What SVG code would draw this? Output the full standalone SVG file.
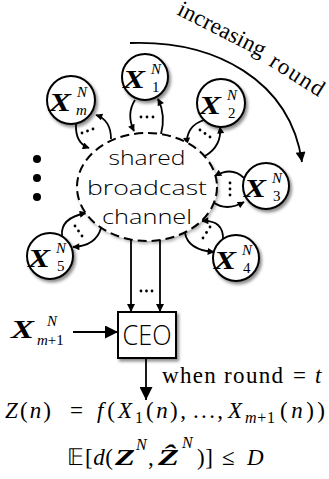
<svg xmlns="http://www.w3.org/2000/svg" width="329" height="479" viewBox="0 0 329 479">
<defs>
<filter id="sh" x="-30%" y="-30%" width="170%" height="170%">
<feDropShadow dx="2" dy="2.5" stdDeviation="1.8" flood-color="#000" flood-opacity="0.45"/>
</filter>
<filter id="sh2" x="-20%" y="-20%" width="140%" height="140%">
<feDropShadow dx="1.5" dy="2" stdDeviation="1.5" flood-color="#000" flood-opacity="0.3"/>
</filter>
<marker id="as" markerUnits="userSpaceOnUse" viewBox="0 0 10 10" refX="9" refY="5" markerWidth="9" markerHeight="7" orient="auto"><path d="M0,0 L10,5 L0,10 z"/></marker>
<marker id="am" markerUnits="userSpaceOnUse" viewBox="0 0 10 10" refX="10" refY="5" markerWidth="13" markerHeight="8" orient="auto"><path d="M0,0 L10,5 L0,10 z"/></marker>
<marker id="al" markerUnits="userSpaceOnUse" viewBox="0 0 10 10" refX="10" refY="5" markerWidth="19" markerHeight="13" orient="auto"><path d="M0,0 L10,5 L0,10 z"/></marker>
<marker id="ac" markerUnits="userSpaceOnUse" viewBox="0 0 10 10" refX="10" refY="5" markerWidth="15" markerHeight="10" orient="auto"><path d="M0,0 L10,5 L0,10 z"/></marker>
</defs>
<style>
.node circle{fill:#fff;stroke:#000;stroke-width:2;filter:url(#sh)}
.bx{font-family:"Liberation Serif",serif;font-weight:bold;font-style:italic;font-size:25px}
.sup{font-family:"Liberation Serif",serif;font-style:italic;font-size:15px}
.sub{font-family:"Liberation Serif",serif;font-size:15px}
.c{fill:none;stroke:#000;stroke-width:1.8}
.cs{fill:none;stroke:#000;stroke-width:1.8;marker-end:url(#as)}
.dt{fill:#000}
.sans{font-family:"Open Sans","DejaVu Sans",sans-serif;font-weight:300;text-anchor:middle}
.m{font-family:"Liberation Serif",serif;font-size:23px}
.s{font-family:"Liberation Serif",serif;font-size:16px}
.i{font-style:italic}
.bi{font-style:italic;font-weight:bold}
</style>

<g id="connectors">
  <path class="cs" d="M76,124 Q75,143 89,148"/>
  <path class="cs" d="M111,139 Q111,120 96,115"/>
  <circle class="dt" cx="82" cy="133" r="1.4"/><circle class="dt" cx="87.5" cy="131" r="1.4"/><circle class="dt" cx="93" cy="129" r="1.4"/>
  <path class="cs" d="M135,100 Q126,114 134,131"/>
  <path class="cs" d="M161,134 Q166,115 158,99"/>
  <circle class="dt" cx="141" cy="117" r="1.4"/><circle class="dt" cx="147" cy="117" r="1.4"/><circle class="dt" cx="153" cy="117" r="1.4"/>
  <path class="cs" d="M204,120 Q186,126 187,144"/>
  <path class="cs" d="M205,156 Q222,146 220,127"/>
  <circle class="dt" cx="200" cy="130" r="1.4"/><circle class="dt" cx="205" cy="133.5" r="1.4"/><circle class="dt" cx="210" cy="137" r="1.4"/>
  <path class="cs" d="M244,178 Q232,166 215,176"/>
  <path class="cs" d="M213,202 Q226,212 244,202"/>
  <circle class="dt" cx="230" cy="183" r="1.4"/><circle class="dt" cx="230" cy="189" r="1.4"/><circle class="dt" cx="230" cy="195" r="1.4"/>
  <path class="cs" d="M223,240 Q224,220 202,221"/>
  <path class="cs" d="M185,233 Q188,250 214,252"/>
  <circle class="dt" cx="210" cy="227" r="1.4"/><circle class="dt" cx="206.5" cy="232.5" r="1.4"/><circle class="dt" cx="203" cy="238" r="1.4"/>
  <path class="cs" d="M62,236 Q60,218 86,213"/>
  <path class="cs" d="M101,228 Q96,246 73,247"/>
  <circle class="dt" cx="75" cy="226" r="1.4"/><circle class="dt" cx="78.5" cy="231" r="1.4"/><circle class="dt" cx="82" cy="236" r="1.4"/>
  <path class="c" d="M131,240 L131,312" marker-end="url(#am)"/>
  <path class="c" d="M160,240 L160,312" marker-end="url(#am)"/>
  <circle class="dt" cx="141" cy="291" r="1.4"/><circle class="dt" cx="146.5" cy="291" r="1.4"/><circle class="dt" cx="152" cy="291" r="1.4"/>
  <path class="c" d="M73,332 L118,332" marker-end="url(#al)"/>
  <path class="c" d="M146,358 L146,400" marker-end="url(#al)"/>
  <path class="c" d="M130,43 C215,40 290,80 302,162" marker-end="url(#ac)"/>
</g>

<g id="more-dots">
  <circle cx="37" cy="159" r="4"/><circle cx="37" cy="178" r="4"/><circle cx="37" cy="197" r="4"/>
</g>

<g id="channel">
  <ellipse cx="147" cy="187" rx="70" ry="54" fill="#fff" stroke="#000" stroke-width="2" stroke-dasharray="9 5" filter="url(#sh2)"/>
  <text class="sans" x="147" y="165" font-size="20" textLength="77" lengthAdjust="spacingAndGlyphs">shared</text>
  <text class="sans" x="147" y="194.5" font-size="20" textLength="120" lengthAdjust="spacingAndGlyphs">broadcast</text>
  <text class="sans" x="147" y="224" font-size="20" textLength="90" lengthAdjust="spacingAndGlyphs">channel</text>
</g>

<g id="x1" class="node"><circle cx="145" cy="77" r="23"/><text class="bx" x="123" y="88" textLength="22" lengthAdjust="spacingAndGlyphs">X</text><text class="sup" x="151" y="74">N</text><text class="sub" x="152" y="92">1</text></g>
<g id="xm" class="node"><circle cx="71" cy="100" r="24"/><text class="bx" x="49" y="111" textLength="22" lengthAdjust="spacingAndGlyphs">X</text><text class="sup" x="77" y="97">N</text><text class="sup" x="76" y="115">m</text></g>
<g id="x2" class="node"><circle cx="221" cy="103" r="24"/><text class="bx" x="199" y="114" textLength="22" lengthAdjust="spacingAndGlyphs">X</text><text class="sup" x="227" y="100">N</text><text class="sub" x="228" y="118">2</text></g>
<g id="x3" class="node"><circle cx="266" cy="186" r="23"/><text class="bx" x="244" y="197" textLength="22" lengthAdjust="spacingAndGlyphs">X</text><text class="sup" x="272" y="183">N</text><text class="sub" x="273" y="201">3</text></g>
<g id="x4" class="node"><circle cx="236" cy="258" r="23"/><text class="bx" x="214" y="269" textLength="22" lengthAdjust="spacingAndGlyphs">X</text><text class="sup" x="242" y="255">N</text><text class="sub" x="243" y="273">4</text></g>
<g id="x5" class="node"><circle cx="50" cy="256" r="23"/><text class="bx" x="28" y="267" textLength="22" lengthAdjust="spacingAndGlyphs">X</text><text class="sup" x="56" y="253">N</text><text class="sub" x="57" y="271">5</text></g>

<g id="ceo">
  <rect x="118" y="312" width="58" height="46" fill="#fff" stroke="#000" stroke-width="2" filter="url(#sh)"/>
  <text class="sans" x="147" y="345" font-size="27" textLength="49" lengthAdjust="spacingAndGlyphs">CEO</text>
</g>

<g id="xm1">
  <text class="bx" x="11" y="338" textLength="23" lengthAdjust="spacingAndGlyphs">X</text>
  <text class="sup" x="47" y="326">N</text>
  <text class="sub" x="37" y="345"><tspan class="i">m</tspan>+1</text>
</g>

<g id="labels">
  <text class="m" transform="translate(176,14) rotate(27)" textLength="96" lengthAdjust="spacing">increasing</text>
  <text class="m" transform="translate(268,65) rotate(32.5)" textLength="60" lengthAdjust="spacing">round</text>

  <text class="m" x="162" y="383" textLength="121" lengthAdjust="spacing">when round</text>
  <text class="m" x="293" y="383">=</text>
  <text class="m i" x="315" y="383">t</text>

  <text class="m" x="5" y="418" textLength="46" lengthAdjust="spacing"><tspan class="i">Z</tspan>(<tspan class="i">n</tspan>)</text>
  <text class="m" x="70" y="418">=</text>
  <text class="m" x="97" y="418" textLength="18" lengthAdjust="spacing"><tspan class="i">f</tspan>(</text>
  <text class="m i" x="118" y="418">X</text>
  <text class="s" x="135" y="423">1</text>
  <text class="m" x="146" y="418" textLength="40" lengthAdjust="spacing">(<tspan class="i">n</tspan>),</text>
  <text class="m" x="193" y="418" textLength="30" lengthAdjust="spacing">. . . ,</text>
  <text class="m i" x="228" y="418">X</text>
  <text class="s" x="245" y="423" textLength="30" lengthAdjust="spacing"><tspan class="i">m</tspan>+1</text>
  <text class="m" x="280" y="418" textLength="45" lengthAdjust="spacing">(<tspan class="i">n</tspan>))</text>

  <text class="m" x="67" y="465" font-family="DejaVu Sans, DejaVu Serif, serif" font-size="21">𝔼</text>
  <text class="m" x="85" y="465" textLength="28" lengthAdjust="spacing">[<tspan class="i">d</tspan>(</text>
  <text class="m bi" x="115" y="465" textLength="20" lengthAdjust="spacingAndGlyphs">Z</text>
  <text class="s i" x="136" y="450">N</text>
  <text class="m" x="148" y="465">,</text>
  <text class="m bi" x="158" y="465" textLength="21" lengthAdjust="spacingAndGlyphs">Ẑ</text>
  <text class="s i" x="182" y="448">N</text>
  <text class="m" x="197" y="465" textLength="16" lengthAdjust="spacing">)]</text>
  <text class="m" x="222" y="465">≤</text>
  <text class="m i" x="247" y="465">D</text>
</g>
</svg>
